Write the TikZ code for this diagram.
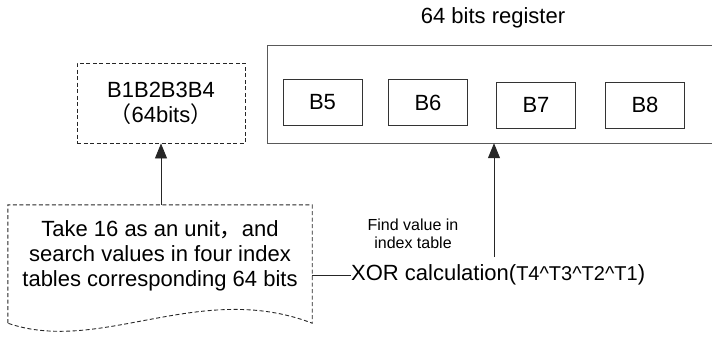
\documentclass[tikz,border=0pt]{standalone}
\usepackage{fontspec}
\setmainfont{Liberation Sans}
\newfontfamily\cjk{Noto Sans CJK SC}
\usetikzlibrary{arrows.meta,positioning,calc}

\begin{document}
\begin{tikzpicture}[
  x=1pt, y=-1pt,
  big/.style={font=\fontsize{22}{25}\selectfont, inner sep=0pt, align=center},
  small/.style={font=\fontsize{16}{18}\selectfont, inner sep=0pt, align=center},
  blk/.style={draw=black!80, line width=0.9pt, minimum width=79pt,
    minimum height=46pt, font=\fontsize{22}{25}\selectfont},
  dashbox/.style={draw=black!85, line width=0.9pt, dash pattern=on 4pt off 2.5pt},
  arr/.style={-{Triangle[length=15pt,width=12pt]}, line width=0.9pt, black!85},
]
\useasboundingbox (0,0) rectangle (712,341);

% register with its four bytes
\node[big] (title) at (493,18) {64 bits register};
\node[minimum width=444pt, minimum height=97pt, inner sep=0pt] (reg) at (490,94.5) {};
\draw[black!65, line width=0.9pt]
  (reg.north east) -- (reg.north west) -- (reg.south west) -- (reg.south east);
\node[blk] (b5) at (322.5,102.5) {B5};
\node[blk] (b6) at (428,102.5) {B6};
\node[blk] (b7) at (536,105) {B7};
\node[blk] (b8) at (645,105) {B8};

% upper 64 bits
\node[big, dashbox, minimum width=168pt, minimum height=80pt] (hi) at (161,103)
  {B1B2B3B4\\{\cjk （}64bits{\cjk ）}};

% lookup step, drawn as a document shape
\node[minimum width=304pt, minimum height=118pt, inner sep=0pt] (doc) at (160,264) {};
\draw[dashbox]
  (doc.south west) -- (doc.north west) -- (doc.north east) -- (doc.south east)
  .. controls (200,280) and (100,355) .. (doc.south west);
\node[big] (doctext) at (160,256)
  {Take 16 as an unit{\cjk ，}and\\search values in four index\\tables corresponding 64 bits};

\node[big, anchor=west] (xor) at (351,275)
  {XOR calculation({\fontsize{20}{20}\selectfont T4\textasciicircum T3\textasciicircum T2\textasciicircum T1})};
\node[small] (find) at (413,234) {Find value in\\index table};

\draw[arr] (doc.north -| hi.south) -- (hi.south);
\draw[black!85, line width=0.9pt] (xor.west -| doc.east) -- (xor.west);
\coordinate (up) at (494,257);
\draw[arr] (up) -- (up |- reg.south);
\end{tikzpicture}
\end{document}
